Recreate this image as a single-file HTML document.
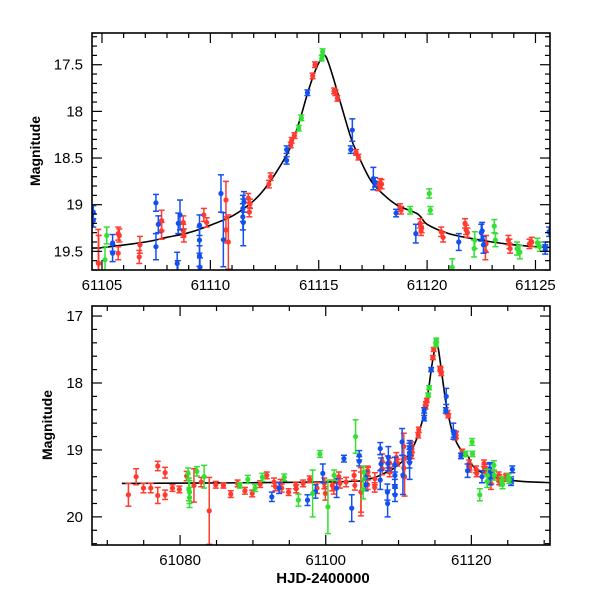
<!DOCTYPE html>
<html><head><meta charset="utf-8"><style>
html,body{margin:0;padding:0;background:#fff;}
svg text{font-family:"Liberation Sans",sans-serif;fill:#000;}
</style></head><body>
<svg id="chart" width="600" height="600" viewBox="0 0 600 600" xmlns="http://www.w3.org/2000/svg">
<g id="top"></g>
<g id="bot"></g>
<text transform="translate(40,151) rotate(-90)" text-anchor="middle" font-size="14" font-weight="bold">Magnitude</text>
<text transform="translate(52,425) rotate(-90)" text-anchor="middle" font-size="14" font-weight="bold">Magnitude</text>
<text x="323" y="583" text-anchor="middle" font-size="15" font-weight="bold">HJD-2400000</text>
</svg>
<script>
// red series
const redT = [61104.83,61105.75,61105.8,61105.75,61106.75,61106.72,61107.75,61107.75,61108.75,61108.75,61108.78,61109.7,61109.83,61110.72,61110.72,61110.83,61111.75,61111.8,61111.83,61112.7,61112.78,61113.71,61113.75,61113.88,61114.72,61114.83,61115.71,61115.77,61115.86,61116.72,61116.83,61117.75,61117.83,61117.9,61118.75,61118.8,61119.68,61119.75,61119.72,61120.65,61120.74,61121.75,61121.8,61121.86,61122.72,61122.69,61123.75,61123.8,61123.83,61124.72,61124.83,
61072.9,61073.96,61074.97,61075.97,61076.93,61076.93,61077.94,61077.94,61078.95,61079.9,61080.9,61081.9,61082.9,61084.0,61084.9,61085.95,61086.96,61087.9,61088.9,61089.9,61091.0,61091.9,61092.9,61093.1,61093.8,61093.95,61094.9,61095.9,61095.95,61096.9,61097.8,61098.8,61099.8,61099.95,61100.9,61101.1,61101.8,61101.95,61102.8,61103.9,61104.0,61104.85];
const redM = [19.625,19.31,19.33,19.52,19.43,19.56,19.17,19.28,19.19,19.28,19.33,19.11,19.19,18.95,19.27,19.4,18.93,19.08,18.99,18.78,18.7,18.36,18.31,18.26,17.62,17.5,17.78,17.8,17.86,18.44,18.49,18.8,18.77,18.78,19.03,19.06,19.2,19.25,19.28,19.29,19.35,19.2,19.27,19.3,19.42,19.5,19.38,19.42,19.47,19.42,19.4,
19.67,19.40,19.57,19.57,19.24,19.68,19.34,19.67,19.57,19.59,19.39,19.53,19.48,19.91,19.52,19.53,19.66,19.5,19.61,19.65,19.51,19.38,19.48,19.55,19.5,19.57,19.63,19.53,19.58,19.5,19.44,19.57,19.5,19.65,19.53,19.58,19.4,19.5,19.48,19.38,19.53,19.63];
const redE = [0.36,0.07,0.07,0.07,0.09,0.07,0.11,0.09,0.07,0.07,0.07,0.07,0.05,0.2,0.14,0.29,0.05,0.05,0.05,0.04,0.04,0.03,0.03,0.03,0.03,0.03,0.03,0.03,0.03,0.03,0.03,0.05,0.05,0.05,0.04,0.04,0.05,0.05,0.05,0.05,0.05,0.05,0.05,0.05,0.09,0.09,0.05,0.05,0.05,0.05,0.05,
0.17,0.12,0.07,0.07,0.07,0.12,0.08,0.07,0.05,0.05,0.07,0.25,0.07,0.5,0.05,0.04,0.05,0.05,0.05,0.05,0.05,0.05,0.06,0.06,0.06,0.06,0.05,0.05,0.06,0.05,0.05,0.08,0.08,0.1,0.08,0.08,0.07,0.07,0.07,0.07,0.07,0.3];
// blue series
const blueT = [61105.49,61105.49,61107.49,61107.49,61107.6,61108.52,61108.6,61108.47,61109.5,61109.5,61109.5,61109.52,61110.49,61110.6,61111.5,61111.5,61111.52,61111.55,61113.52,61113.52,61114.48,61116.55,61116.48,61117.52,61117.6,61118.57,61119.48,61121.46,61122.5,61122.54,61122.6,61125.45,61125.45,61125.63,
61092.6,61093.6,61097.5,61098.6,61099.6,61101.5,61102.5,61103.57,61104.6,61104.6,61108.5];
const blueM = [19.41,19.52,18.98,19.45,19.21,19.2,19.11,19.63,19.22,19.38,19.55,19.67,18.88,19.375,19.13,19.04,19.19,18.97,18.525,18.41,17.8,18.2,18.41,18.72,18.76,19.09,19.31,19.4,19.3,19.28,19.43,19.45,19.48,19.29,
19.7,19.57,19.75,19.62,19.35,19.57,19.13,19.87,19.08,19.17,19.8];
const blueE = [0.09,0.09,0.09,0.14,0.09,0.11,0.16,0.12,0.11,0.14,0.11,0.1,0.2,0.29,0.14,0.14,0.25,0.11,0.04,0.04,0.03,0.12,0.04,0.12,0.05,0.04,0.1,0.09,0.09,0.09,0.09,0.05,0.05,0.05,
0.07,0.08,0.08,0.1,0.14,0.14,0.05,0.2,0.07,0.07,0.2];
// green series
const greenT = [61105.22,61105.14,61114.08,61114.2,61115.14,61115.18,61119.22,61120.1,61120.15,61121.16,61122.2,61122.17,61123.1,61123.15,61124.15,61124.28,61125.09,61125.2,
61081.1,61081.2,61081.3,61081.3,61082.3,61083.3,61088.2,61089.3,61090.3,61091.3,61094.3,61096.25,61098.2,61099.2,61100.3,61101.15,61104.1];
const greenM = [19.33,19.59,18.18,18.07,17.43,17.36,19.06,18.88,19.06,19.67,19.38,19.47,19.23,19.38,19.47,19.51,19.41,19.45,
19.35,19.59,19.71,19.63,19.32,19.40,19.53,19.44,19.57,19.41,19.41,19.75,19.65,19.06,19.85,19.38,18.8];
const greenE = [0.09,0.14,0.03,0.03,0.03,0.03,0.04,0.05,0.04,0.09,0.09,0.09,0.07,0.07,0.07,0.07,0.05,0.05,
0.08,0.17,0.15,0.17,0.07,0.17,0.04,0.06,0.05,0.06,0.05,0.09,0.35,0.05,0.4,0.08,0.25];
// model curve samples
const modelT = [61072,61090,61100,61104.5,61105,61107,61108,61109,61110,61110.94,61111.55,61112.17,61112.79,61113.56,61113.86,61114.17,61114.48,61114.78,61115.05,61115.27,61115.45,61115.71,61116.02,61116.48,61116.78,61117.4,61118.03,61118.65,61119.57,61120,61121,61122,61123,61124,61125,61127,61131];
const modelM = [19.50,19.49,19.48,19.465,19.46,19.40,19.35,19.30,19.22,19.13,19.04,18.92,18.74,18.45,18.28,18.06,17.81,17.60,17.46,17.40,17.48,17.67,17.92,18.28,18.45,18.74,18.90,19.01,19.10,19.21,19.31,19.36,19.40,19.43,19.45,19.47,19.49];
const topXTicks = [61105,61110,61115,61120,61125];
const topYTicks = [17.5,18,18.5,19,19.5];
const botXTicks = [61080,61100,61120];
const botYTicks = [17,18,19,20];

const NS="http://www.w3.org/2000/svg";
const series=[{t:redT,m:redM,e:redE,c:"#ff3b2f",n:"red"},{t:blueT,m:blueM,e:blueE,c:"#1450f0",n:"blue"},{t:greenT,m:greenM,e:greenE,c:"#33e033",n:"green"}];
function mk(parent,tag,attrs){const e=document.createElementNS(NS,tag);for(const k in attrs)e.setAttribute(k,attrs[k]);parent.appendChild(e);return e;}
function smoothPath(pts){
  let d="M"+pts[0][0].toFixed(2)+","+pts[0][1].toFixed(2);
  for(let i=0;i<pts.length-1;i++){
    const p0=pts[Math.max(0,i-1)],p1=pts[i],p2=pts[i+1],p3=pts[Math.min(pts.length-1,i+2)];
    const c1=[p1[0]+(p2[0]-p0[0])/6,p1[1]+(p2[1]-p0[1])/6];
    const c2=[p2[0]-(p3[0]-p1[0])/6,p2[1]-(p3[1]-p1[1])/6];
    d+="C"+c1[0].toFixed(2)+","+c1[1].toFixed(2)+" "+c2[0].toFixed(2)+","+c2[1].toFixed(2)+" "+p2[0].toFixed(2)+","+p2[1].toFixed(2);
  }
  return d;
}
function panel(g,id,L,R,T,B,x0,x1,y0,y1,xt,xmin,yt,ymin){
  const sx=t=>L+(t-x0)/(x1-x0)*(R-L);
  const sy=m=>T+(m-y0)/(y1-y0)*(B-T);
  const clipId="clip-"+id;
  const cp=mk(g,"clipPath",{id:clipId});mk(cp,"rect",{x:L,y:T,width:R-L,height:B-T});
  const data=mk(g,"g",{"clip-path":"url(#"+clipId+")"});
  
  
  const pts=modelT.map((t,i)=>[sx(t),sy(modelM[i])]);
  const p=mk(data,"path",{d:smoothPath(pts),fill:"none",stroke:"#000","stroke-width":"1.6"});
  
  
  series.forEach(s=>{
    for(let i=0;i<s.t.length;i++){
      const x=sx(s.t[i]),y=sy(s.m[i]);
      const ya=sy(s.m[i]-s.e[i]),yb=sy(s.m[i]+s.e[i]);
      const gp=mk(data,"g",{stroke:s.c,fill:s.c,"stroke-width":"1.5"});
      
      
      mk(gp,"line",{x1:x,x2:x,y1:ya,y2:yb});
      mk(gp,"line",{x1:x-3,x2:x+3,y1:ya,y2:ya});
      mk(gp,"line",{x1:x-3,x2:x+3,y1:yb,y2:yb});
      mk(gp,"circle",{cx:x,cy:y,r:2.6,stroke:"none"});
    }
  });
  const fr=mk(g,"rect",{x:L,y:T,width:R-L,height:B-T,fill:"none",stroke:"#000","stroke-width":"1.6"});
  
  
  const tk=mk(g,"g",{stroke:"#000","stroke-width":"1.2"});
  
  
  const xstep=xt[1]-xt[0];
  for(let v=Math.ceil(x0/xmin)*xmin;v<=x1+1e-9;v+=xmin){const x=sx(v);const maj=Math.abs(Math.round(v/xstep)*xstep-v)<1e-6;const l=maj?10:5;
    mk(tk,"line",{x1:x,x2:x,y1:B,y2:B-l});mk(tk,"line",{x1:x,x2:x,y1:T,y2:T+l});}
  const ystep=yt[1]-yt[0];
  for(let v=Math.ceil(y0/ymin-1e-9)*ymin;v<=y1+1e-9;v+=ymin){const y=sy(v);const maj=Math.abs(Math.round(v/ystep)*ystep-v)<1e-6;const l=maj?10:5;
    mk(tk,"line",{x1:L,x2:L+l,y1:y,y2:y});mk(tk,"line",{x1:R,x2:R-l,y1:y,y2:y});}
  xt.forEach(v=>{const t=mk(g,"text",{x:sx(v),y:B+20,"text-anchor":"middle","font-size":"15"});t.textContent=v;
    
    });
  yt.forEach(v=>{const t=mk(g,"text",{x:L-9,y:sy(v)+5,"text-anchor":"end","font-size":"15"});t.textContent=v;
    
    });
}
panel(document.getElementById("top"),"top",92,550,33,270,61104.54,61125.67,17.16,19.70,topXTicks,1,topYTicks,0.1);
panel(document.getElementById("bot"),"bottom",92,550,306,545,61067.9,61130.8,16.85,20.42,botXTicks,5,botYTicks,0.2);
</script>
</body></html>
